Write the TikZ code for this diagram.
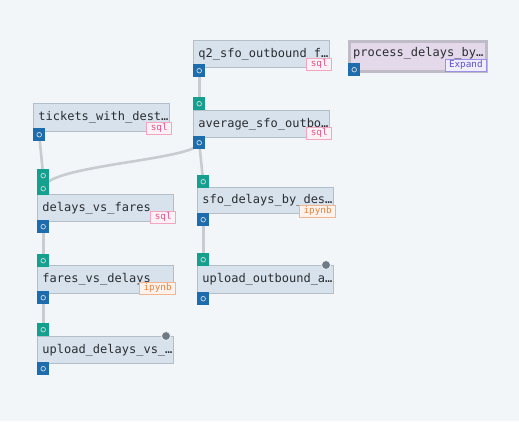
\documentclass[tikz,border=0pt]{standalone}
\usepackage{fontspec}
\setmonofont{DejaVu Sans Mono}
\usetikzlibrary{backgrounds}
\definecolor{bgc}{HTML}{F3F6F9}
\definecolor{boxfill}{HTML}{D7E2EC}
\definecolor{boxline}{HTML}{B4BEC8}
\definecolor{portblue}{HTML}{1D6DAE}
\definecolor{portteal}{HTML}{14A08F}
\definecolor{edgec}{HTML}{C8CCD0}
\definecolor{txt}{HTML}{2A2D31}
\definecolor{sqlc}{HTML}{E2558A}
\definecolor{sqlline}{HTML}{F2A6C2}
\definecolor{sqlfill}{HTML}{FCF1F5}
\definecolor{nbc}{HTML}{E8823F}
\definecolor{nbline}{HTML}{F4B48C}
\definecolor{nbfill}{HTML}{FDF3EC}
\definecolor{expc}{HTML}{5B4FD6}
\definecolor{expline}{HTML}{9A90EA}
\definecolor{expfill}{HTML}{F1EEFC}
\definecolor{procfill}{HTML}{E3D9EB}
\definecolor{procline}{HTML}{BFBCC8}
\definecolor{dotc}{HTML}{6E7A86}
\tikzset{
  blockbox/.style={draw=boxline, fill=boxfill, line width=0.8pt, anchor=north west,
    minimum height=#1, inner ysep=0pt, inner xsep=5pt, text width=126pt, align=left,
    text=txt, font=\ttfamily\fontsize{12}{14}\selectfont},
  blockbox/.default=27pt,
  port/.style={anchor=north west, minimum width=12pt, minimum height=13pt, inner sep=0pt,
    draw=none, fill=#1},
  portring/.style={draw=white!85!black, line width=0.7pt},
  tag/.style={anchor=north east, minimum height=12pt, inner ysep=0pt, inner xsep=4pt,
    font=\ttfamily\fontsize{9.3}{10}\selectfont, line width=0.8pt},
  sqltag/.style={tag, draw=sqlline, fill=sqlfill, text=sqlc},
  nbtag/.style={tag, draw=nbline, fill=nbfill, text=nbc},
  exptag/.style={tag, draw=expline, fill=expfill, text=expc},
  edge/.style={draw=edgec, line width=2.6pt},
  statusdot/.style={circle, fill=dotc, draw=white!90!gray, line width=0.8pt, minimum size=9pt, inner sep=0pt}
}
\newcommand\ring[1]{\draw[portring] (#1.center) circle (2.3pt);}
\begin{document}
\begin{tikzpicture}[x=1pt,y=-1pt]
\useasboundingbox (0,0) rectangle (519,421);
% boxes
\node[blockbox] (q2) at (193,40) {q2\_sfo\_outbound\_f…};
\node[blockbox] (avg) at (193,110) {average\_sfo\_outbo…};
\node[blockbox, draw=procline, fill=procfill, line width=2.6pt, minimum height=30pt, text width=127pt] (proc) at (348,40) {};
\node[anchor=west, inner sep=0pt, text=txt, font=\ttfamily\fontsize{12}{14}\selectfont] (proctext) at (353,53) {process\_delays\_by…};
\node[blockbox, minimum height=28pt] (tick) at (33,103) {tickets\_with\_dest…};
\node[blockbox] (dvf) at (37,194) {delays\_vs\_fares};
\node[blockbox, minimum height=28pt] (fvd) at (37,265) {fares\_vs\_delays};
\node[blockbox] (udv) at (37,336) {upload\_delays\_vs\_…};
\node[blockbox, minimum height=26pt] (sfo) at (197,187) {sfo\_delays\_by\_des…};
\node[blockbox, minimum height=28pt] (uoa) at (197,265) {upload\_outbound\_a…};
% tags
\node[sqltag] (q2tag) at (332,58) {sql};
\node[sqltag] (avgtag) at (332,127) {sql};
\node[exptag] (proctag) at (487,58.5) {Expand};
\node[sqltag] (ticktag) at (172,122) {sql};
\node[sqltag] (dvftag) at (176,211) {sql};
\node[nbtag] (fvdtag) at (176,282) {ipynb};
\node[nbtag] (sfotag) at (336,205) {ipynb};
% status dots
\node[statusdot] (udvdot) at (166,336) {};
\node[statusdot] (uoadot) at (326,265) {};
% ports
\node[port=portblue] (q2out) at (193,64) {};
\node[port=portteal] (avgin) at (193,97) {};
\node[port=portblue] (avgout) at (193,136) {};
\node[port=portblue] (procout) at (348,63) {};
\node[port=portblue] (tickout) at (33,128) {};
\node[port=portteal] (dvfin1) at (37,169) {};
\node[port=portteal] (dvfin2) at (37,182) {};
\node[port=portblue] (dvfout) at (37,220) {};
\node[port=portteal] (fvdin) at (37,254) {};
\node[port=portblue] (fvdout) at (37,291) {};
\node[port=portteal] (udvin) at (37,323) {};
\node[port=portblue] (udvout) at (37,362) {};
\node[port=portteal] (sfoin) at (197,175) {};
\node[port=portblue] (sfoout) at (197,213) {};
\node[port=portteal] (uoain) at (197,253) {};
\node[port=portblue] (uoaout) at (197,292) {};
\foreach \p in {q2out,avgin,avgout,procout,tickout,dvfin1,dvfin2,dvfout,fvdin,fvdout,udvin,udvout,sfoin,sfoout,uoain,uoaout}{\ring{\p}}
\begin{pgfonlayer}{background}
\fill[bgc] (0,0) rectangle (519,421);
\draw[edge] (q2out.center) -- (avgin.center);
\draw[edge] (avgout.center) -- (sfoin.center);
\draw[edge] (avgout.center) .. controls (199,160) and (43,165) .. (dvfin2.center);
\draw[edge] (tickout.center) -- (dvfin1.center);
\draw[edge] (dvfout.center) -- (fvdin.center);
\draw[edge] (fvdout.center) -- (udvin.center);
\draw[edge] (sfoout.center) -- (uoain.center);
\end{pgfonlayer}
\end{tikzpicture}
\end{document}
